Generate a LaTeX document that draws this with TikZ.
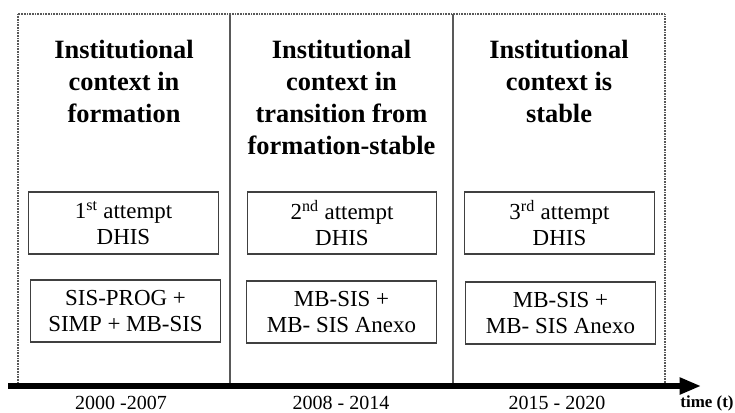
\documentclass[tikz,border=0pt]{standalone}
\usepackage{fontspec}
\setmainfont{Liberation Serif}
\usetikzlibrary{arrows.meta}

\begin{document}
\begin{tikzpicture}[
  x=0.75pt, y=-0.75pt,
  titlebox/.style={inner sep=0pt, anchor=north, align=center,
    font=\fontsize{19.8}{24}\selectfont\bfseries},
  stepbox/.style={rectangle, draw=black!75, line width=0.8pt,
    minimum width=142pt, minimum height=46.5pt, inner sep=0pt, align=center,
    font=\fontsize{17.2}{19}\selectfont},
  yearlbl/.style={font=\fontsize{15}{17}\selectfont, inner sep=0pt},
  axis/.style={line width=3.8pt, -{Triangle[length=16pt,width=12pt]}},
  frame/.style={draw=black!65, line width=0.8pt, dash pattern=on 0.7pt off 0.5pt},
  divider/.style={draw=black!65, line width=0.8pt}
]
\useasboundingbox (0,0) rectangle (735,412);

% Frame and column dividers
\draw[frame] (18,14) rectangle (665,384);
\draw[divider] (230,14) -- (230,384);
\draw[divider] (453,14) -- (453,384);

% Column headings
\node[titlebox] (head1) at (124,40) {Institutional\\context in\\formation};
\node[titlebox] (head2) at (341.5,40) {Institutional\\context in\\transition from\\formation-stable};
\node[titlebox] (head3) at (559,40) {Institutional\\context is\\stable};

% Attempts
\node[stepbox] (try1) at (123.5,223) {1\textsuperscript{st} attempt\\DHIS};
\node[stepbox] (try2) at (342,223) {2\textsuperscript{nd} attempt\\DHIS};
\node[stepbox] (try3) at (559.5,223) {3\textsuperscript{rd} attempt\\DHIS};

% Systems
\node[stepbox] (sys1) at (125.5,311) {SIS-PROG +\\SIMP + MB-SIS};
\node[stepbox] (sys2) at (341.5,312) {MB-SIS +\\MB- SIS Anexo};
\node[stepbox] (sys3) at (560.5,313) {MB-SIS +\\MB- SIS Anexo};

% Time axis
\coordinate (tstart) at (8,386);
\coordinate (tend) at (701,386);
\draw[axis] (tstart) -- (tend);

\node[yearlbl] (yr1) at (121,403) {2000 -2007};
\node[yearlbl] (yr2) at (341,403) {2008 - 2014};
\node[yearlbl] (yr3) at (557,403) {2015 - 2020};
\node[font=\fontsize{12.7}{14}\selectfont\bfseries, inner sep=0pt] (tlbl) at (707,403) {time (t)};

\end{tikzpicture}
\end{document}
